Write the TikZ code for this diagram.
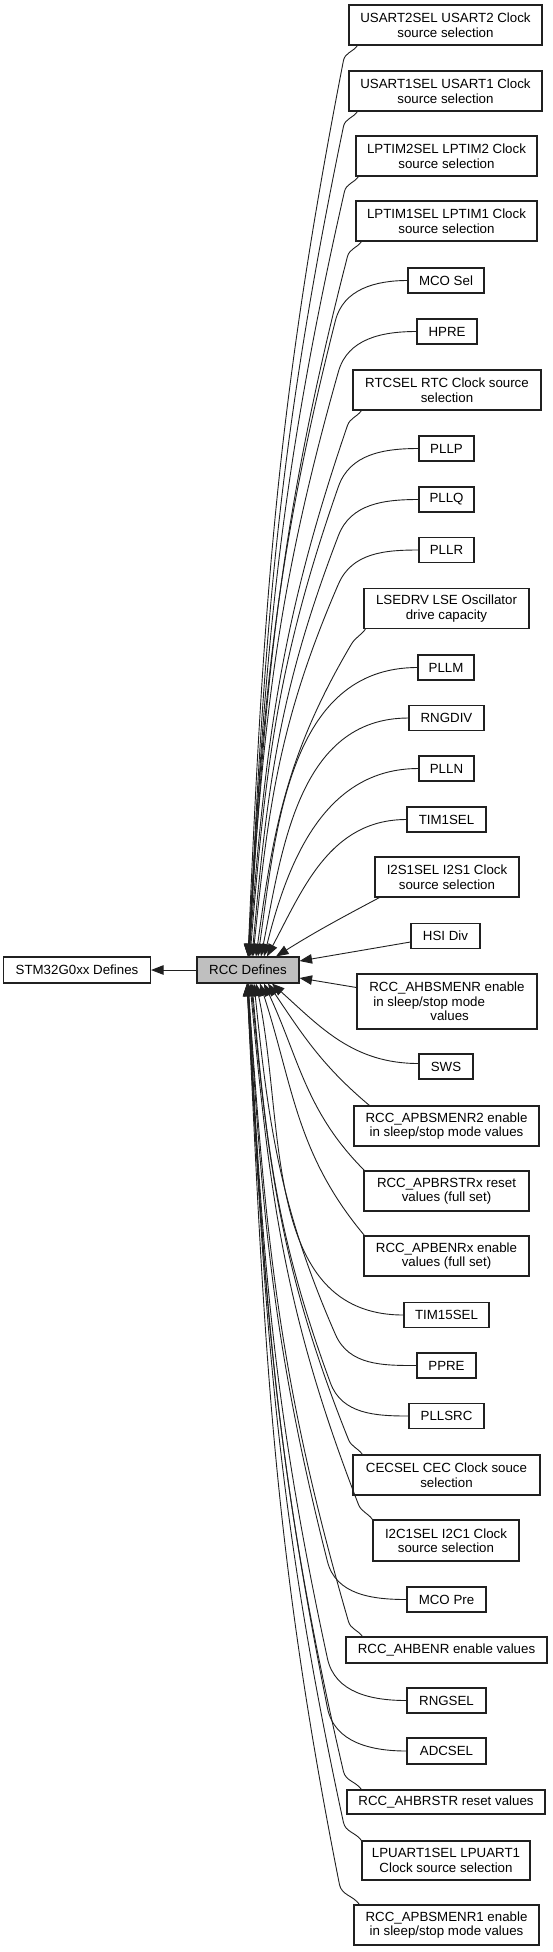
\documentclass[tikz,border=0pt]{standalone}
\usepackage{fontspec}
\setmainfont{Liberation Sans}
\usetikzlibrary{arrows.meta,calc}
\definecolor{grayfill}{HTML}{BFBFBF}
\definecolor{lineclr}{HTML}{202020}
\newcommand\mybox[6]{\node[box,minimum width=#4pt,minimum height=#5pt] (#1) at (#2,-#3) {#6};}
% two-piece connector: start, start angle, bend offset, angle after bend, end, arrival angle
\newcommand\tpedge[6]{\pgfmathsetmacro\qin{#4+180}\pgfmathsetmacro\ein{#6+180}%
  \draw[edge] (#1) to[out=#2,in=\qin] ++(#3) to[out=#4,in=\ein] (#5);}
\begin{document}
\begin{tikzpicture}[x=1pt,y=1pt,font=\fontsize{13.3}{14.5}\selectfont,
  box/.style={draw=lineclr, line width=1.1pt, fill=white, inner sep=0pt, align=center},
  edge/.style={draw=lineclr, line width=0.9pt, -{Triangle[length=12.5pt,width=9.5pt]}}]
\useasboundingbox (0,0) rectangle (552,-1952);
% left nodes
\mybox{stm}{77}{970}{147}{26}{STM32G0xx Defines}
\node[box,fill=grayfill,minimum width=102pt,minimum height=26pt] (rcc) at (248,-970) {RCC Defines};
% top group
\mybox{usart2}{445.5}{25}{193}{40}{USART2SEL USART2 Clock\\source selection}
\mybox{usart1}{445.5}{91}{193}{40}{USART1SEL USART1 Clock\\source selection}
\mybox{lptim2}{446.5}{156}{181}{40}{LPTIM2SEL LPTIM2 Clock\\source selection}
\mybox{lptim1}{446.5}{221}{181}{40}{LPTIM1SEL LPTIM1 Clock\\source selection}
\mybox{mcosel}{446}{280.5}{76}{25}{MCO Sel}
\mybox{hpre}{447}{331.5}{60}{25}{HPRE}
\mybox{rtcsel}{447}{390}{188}{40}{RTCSEL RTC Clock source\\selection}
\mybox{pllp}{446.5}{448.5}{55}{25}{PLLP}
\mybox{pllq}{446.5}{499.5}{55}{25}{PLLQ}
\mybox{pllr}{446.5}{550}{55}{25}{PLLR}
\mybox{lsedrv}{446.5}{608.5}{165}{40}{LSEDRV LSE Oscillator\\drive capacity}
\mybox{pllm}{446}{667.5}{56}{25}{PLLM}
\mybox{rngdiv}{446.5}{718}{75}{25}{RNGDIV}
\mybox{plln}{446.5}{768.5}{55}{25}{PLLN}
\mybox{tim1sel}{446.5}{819.5}{79}{25}{TIM1SEL}
\mybox{i2s1sel}{447}{877}{144}{40}{I2S1SEL I2S1 Clock\\source selection}
% right
\mybox{hsidiv}{445.5}{936}{69}{25}{HSI Div}
\node[box,align=left,minimum width=180pt,minimum height=55pt] (ahbsmenr) at (447,-1001.5) {RCC\_AHBSMENR enable\\\hspace*{4pt}in sleep/stop mode\\\hspace*{61pt}values};
% bottom group
\mybox{sws}{446}{1066.5}{54}{25}{SWS}
\mybox{apbsmenr2}{446.5}{1126}{185}{40}{RCC\_APBSMENR2 enable\\in sleep/stop mode values}
\mybox{apbrstrx}{446.5}{1191}{165}{40}{RCC\_APBRSTRx reset\\values (full set)}
\mybox{apbenrx}{446.5}{1256}{165}{40}{RCC\_APBENRx enable\\values (full set)}
\mybox{tim15sel}{446.5}{1315}{85}{25}{TIM15SEL}
\mybox{ppre}{446.5}{1365.5}{59}{25}{PPRE}
\mybox{pllsrc}{446.5}{1416}{75}{25}{PLLSRC}
\mybox{cecsel}{446.5}{1475}{187}{40}{CECSEL CEC Clock souce\\selection}
\mybox{i2c1sel}{446}{1540.5}{146}{41}{I2C1SEL I2C1 Clock\\source selection}
\mybox{mcopre}{446.5}{1599.5}{79}{25}{MCO Pre}
\mybox{ahbenr}{446.5}{1650}{201}{26}{RCC\_AHBENR enable values}
\mybox{rngsel}{446.5}{1700.5}{79}{25}{RNGSEL}
\mybox{adcsel}{446.5}{1751}{79}{26}{ADCSEL}
\mybox{ahbrstr}{446}{1802}{198}{24}{RCC\_AHBRSTR reset values}
\mybox{lpuart1sel}{446}{1860.5}{168}{39}{LPUART1SEL LPUART1\\Clock source selection}
\mybox{apbsmenr1}{446.5}{1925}{185}{40}{RCC\_APBSMENR1 enable\\in sleep/stop mode values}
% edges top
\tpedge{[xshift=9pt]usart2.south west}{235}{-14,-15}{259}{rcc.north}{267.5}
\tpedge{[xshift=9pt]usart1.south west}{235}{-14,-15}{258.3}{[xshift=1pt]rcc.north}{267.3}
\tpedge{[xshift=3pt]lptim2.south west}{235}{-14,-15}{257.2}{[xshift=1pt]rcc.north}{267}
\tpedge{[xshift=6pt]lptim1.south west}{235}{-14,-15}{255.6}{[xshift=1pt]rcc.north}{266.6}
\tpedge{mcosel.west}{180}{-72,-40}{255.8}{rcc.north}{266.6}
\tpedge{hpre.west}{180}{-78,-40}{254.2}{rcc.north}{266.2}
\tpedge{[xshift=9pt]rtcsel.south west}{235}{-14,-15}{251.1}{[xshift=1pt]rcc.north}{265.5}
\tpedge{pllp.west}{180}{-80,-38}{250.7}{[xshift=2pt]rcc.north}{265.3}
\tpedge{pllq.west}{180}{-80,-36}{249}{[xshift=4pt]rcc.north}{264.8}
\tpedge{pllr.west}{180}{-80,-34}{246.6}{[xshift=5pt]rcc.north}{264.2}
\tpedge{[xshift=2pt]lsedrv.south west}{235}{-14,-15}{239.4}{[xshift=8pt]rcc.north}{262.3}
\draw[edge] (pllm.west) to[out=180,in=82] ([xshift=10pt]rcc.north);
\draw[edge] (rngdiv.west) to[out=180,in=79] ([xshift=13pt]rcc.north);
\draw[edge] (plln.west) to[out=180,in=76] ([xshift=16pt]rcc.north);
\draw[edge] (tim1sel.west) to[out=180,in=62] ([xshift=19pt]rcc.north);
\draw[edge] ([xshift=5pt]i2s1sel.south west) to[out=208,in=32] ([xshift=28pt]rcc.north);
% right edges
\draw[edge] ([yshift=-6pt]hsidiv.west) -- ([yshift=9pt]rcc.east);
\draw[edge] ([yshift=14pt]ahbsmenr.west) -- ([yshift=-8pt]rcc.east);
\draw[edge] (rcc.west) -- (stm.east);
% edges bottom
\draw[edge] ([yshift=3pt]sws.west) to[out=180,in=318] ([xshift=24pt]rcc.south);
\draw[edge] ([xshift=16pt]apbsmenr2.north west) to[out=140,in=304] ([xshift=20pt]rcc.south);
\draw[edge] ([xshift=1pt]apbrstrx.north west) to[out=135,in=295] ([xshift=16pt]rcc.south);
\draw[edge] ([xshift=1pt]apbenrx.north west) to[out=130,in=288] ([xshift=12pt]rcc.south);
\draw[edge] (tim15sel.west) to[out=180,in=282] ([xshift=8pt]rcc.south);
\tpedge{ppre.west}{180}{-81,31}{113.6}{[xshift=6pt]rcc.south}{95.9}
\tpedge{pllsrc.west}{180}{-78,33}{110.2}{[xshift=4pt]rcc.south}{95}
\tpedge{[xshift=10pt]cecsel.north west}{125}{-14,15}{111.8}{[xshift=3pt]rcc.south}{95.4}
\tpedge{i2c1sel.north west}{125}{-14,15}{111.2}{[xshift=2pt]rcc.south}{95.3}
\tpedge{mcopre.west}{180}{-79,38}{104.2}{rcc.south}{93.6}
\tpedge{[xshift=17pt]ahbenr.north west}{125}{-14,15}{106.2}{rcc.south}{94}
\tpedge{rngsel.west}{180}{-79,42}{102.2}{rcc.south}{93}
\tpedge{adcsel.west}{180}{-79,43}{101.3}{rcc.south}{92.8}
\tpedge{[xshift=15pt]ahbrstr.north west}{125}{-18,18}{103.1}{[xshift=-1pt]rcc.south}{93.3}
\tpedge{lpuart1sel.north west}{125}{-18,18}{102.2}{[xshift=-1pt]rcc.south}{93.1}
\tpedge{[xshift=6pt]apbsmenr1.north west}{125}{-20,20}{101.2}{[xshift=-1pt]rcc.south}{92.8}
\end{tikzpicture}
\end{document}
